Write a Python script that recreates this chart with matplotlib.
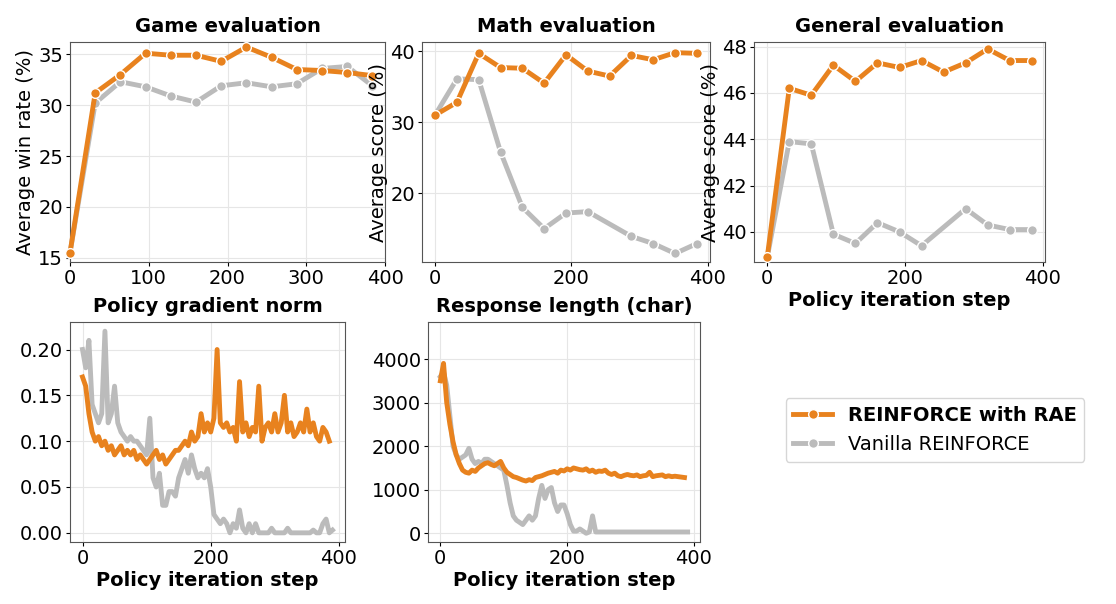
import matplotlib
matplotlib.use('Agg')
import matplotlib.pyplot as plt

ORANGE = '#e8821e'
GRAY = '#bbbbbb'

# evaluation steps
eval_steps = [0, 32, 64, 96, 128, 160, 192, 224, 256, 288, 320, 352, 384]
eval_steps_gap = [0, 32, 64, 96, 128, 160, 192, 224, 288, 320, 352, 384]

game_rae = [15.5, 31.2, 33.0, 35.1, 34.9, 34.9, 34.3, 35.7, 34.7, 33.5, 33.4, 33.2, 32.9]
game_vanilla = [15.5, 30.2, 32.3, 31.8, 30.9, 30.3, 31.9, 32.2, 31.8, 32.1, 33.6, 33.8, 31.9]
math_rae = [31.0, 32.8, 39.7, 37.7, 37.6, 35.5, 39.5, 37.2, 36.5, 39.4, 38.8, 39.8, 39.7]
math_vanilla = [31.0, 36.1, 36.0, 25.8, 18.0, 15.0, 17.2, 17.4, 13.9, 12.9, 11.5, 12.9]
gen_rae = [38.9, 46.2, 45.9, 47.2, 46.5, 47.3, 47.1, 47.4, 46.9, 47.3, 47.9, 47.4, 47.4]
gen_vanilla = [38.9, 43.9, 43.8, 39.9, 39.5, 40.4, 40.0, 39.4, 41.0, 40.3, 40.1, 40.1]

# training curves, every 5 steps
train_steps_rae = list(range(0, 390, 5))
train_steps_van = list(range(0, 395, 5))

grad_rae = [0.17, 0.16, 0.13, 0.11, 0.10, 0.105, 0.095, 0.10, 0.09, 0.095, 0.085, 0.09, 0.095,
            0.085, 0.09, 0.085, 0.09, 0.08, 0.085, 0.08, 0.075, 0.08, 0.085, 0.09, 0.08, 0.085,
            0.075, 0.08, 0.085, 0.09, 0.09, 0.095, 0.10, 0.095, 0.11, 0.10, 0.105, 0.13, 0.11,
            0.12, 0.11, 0.125, 0.20, 0.12, 0.115, 0.12, 0.11, 0.115, 0.10, 0.165, 0.11, 0.12,
            0.105, 0.115, 0.11, 0.16, 0.10, 0.115, 0.12, 0.11, 0.13, 0.11, 0.12, 0.15, 0.11,
            0.12, 0.105, 0.11, 0.12, 0.11, 0.135, 0.11, 0.12, 0.105, 0.10, 0.115, 0.11, 0.10]
grad_van = [0.20, 0.18, 0.21, 0.14, 0.13, 0.12, 0.13, 0.22, 0.12, 0.13, 0.16, 0.12, 0.11,
            0.105, 0.10, 0.105, 0.10, 0.10, 0.095, 0.09, 0.085, 0.125, 0.06, 0.05, 0.065, 0.03,
            0.03, 0.045, 0.045, 0.04, 0.06, 0.07, 0.08, 0.065, 0.085, 0.07, 0.06, 0.065, 0.06,
            0.07, 0.05, 0.02, 0.015, 0.01, 0.015, 0.01, 0.0, 0.01, 0.005, 0.025, 0.005, 0.0,
            0.01, 0.0, 0.01, 0.0, 0.0, 0.0, 0.0, 0.005, 0.0, 0.0, 0.0, 0.0, 0.005, 0.0, 0.0,
            0.0, 0.0, 0.0, 0.0, 0.0, 0.003, 0.0, 0.0, 0.01, 0.015, 0.0, 0.003]
len_rae = [3500, 3900, 3000, 2500, 2100, 1800, 1600, 1450, 1400, 1380, 1450, 1420, 1500,
           1550, 1600, 1620, 1580, 1550, 1600, 1650, 1500, 1400, 1350, 1300, 1280, 1250,
           1220, 1200, 1230, 1210, 1280, 1300, 1320, 1350, 1380, 1400, 1420, 1380, 1450,
           1430, 1480, 1450, 1500, 1480, 1460, 1450, 1480, 1420, 1450, 1400, 1430, 1420,
           1450, 1380, 1350, 1380, 1320, 1300, 1330, 1350, 1330, 1320, 1340, 1300, 1320,
           1330, 1400, 1300, 1320, 1330, 1340, 1300, 1320, 1300, 1310, 1300, 1290, 1280]
len_van = [3600, 3700, 3400, 2700, 2000, 1800, 1700, 1750, 1800, 1950, 1700, 1600, 1650,
           1600, 1700, 1700, 1650, 1600, 1550, 1500, 1450, 1100, 700, 400, 300, 250, 200,
           300, 400, 300, 400, 800, 1100, 800, 1000, 1050, 700, 500, 650, 650, 450, 200, 50,
           50, 100, 50, 0, 30, 400, 30, 30, 30, 30, 30, 30, 30, 30, 30, 30, 30, 30, 30, 30,
           30, 30, 30, 30, 30, 30, 30, 30, 30, 30, 30, 30, 30, 30, 30, 30]

plt.rcParams['font.family'] = 'DejaVu Sans'
plt.rcParams['font.size'] = 14

fig = plt.figure(figsize=(11.16, 6.04), dpi=100)
W, H = 1116, 604
FS = 14


def make_ax(x0, y0, x1, y1):
    ax = fig.add_axes([x0 / W, 1 - y1 / H, (x1 - x0) / W, (y1 - y0) / H])
    ax.grid(True, color='#e6e6e6', lw=0.8)
    ax.set_axisbelow(True)
    for s in ax.spines.values():
        s.set_color('#555555')
    ax.tick_params(labelsize=FS, length=3, pad=2)
    return ax


def eval_plot(ax, y1, x2, y2, title, ylabel):
    ax.plot(x2, y2, color=GRAY, lw=3.5, marker='o', ms=7, mec='white', mew=1, clip_on=False)
    ax.plot(eval_steps, y1, color=ORANGE, lw=3.5, marker='o', ms=7, mec='white', mew=1,
            clip_on=False, zorder=3)
    ax.set_title(title, fontsize=FS, fontweight='bold', pad=7)
    ax.set_ylabel(ylabel, fontsize=FS, labelpad=2)


ax1 = make_ax(70, 42, 385, 262)
eval_plot(ax1, game_rae, eval_steps, game_vanilla, 'Game evaluation', 'Average win rate (%)')
ax1.set_xlim(0, 400)
ax1.set_ylim(14.6, 36.2)

ax2 = make_ax(422, 42, 710, 262)
eval_plot(ax2, math_rae, eval_steps_gap, math_vanilla, 'Math evaluation', 'Average score (%)')
ax2.set_ylim(10.3, 41.3)
ax2.set_yticks([20, 30, 40])

ax3 = make_ax(754, 42, 1045, 262)
eval_plot(ax3, gen_rae, eval_steps_gap, gen_vanilla, 'General evaluation', 'Average score (%)')
ax3.set_ylim(38.7, 48.2)
ax3.set_xlabel('Policy iteration step', fontsize=FS, fontweight='bold', labelpad=2)

ax4 = make_ax(70, 322, 345, 542)
ax4.plot(train_steps_van, grad_van, color=GRAY, lw=3.5)
ax4.plot(train_steps_rae, grad_rae, color=ORANGE, lw=3.5)
ax4.set_title('Policy gradient norm', fontsize=FS, fontweight='bold', pad=7)
ax4.set_xlabel('Policy iteration step', fontsize=FS, fontweight='bold', labelpad=2)
ax4.set_ylim(-0.01, 0.23)
ax4.set_yticks([0, 0.05, 0.10, 0.15, 0.20])

ax5 = make_ax(428, 322, 700, 542)
ax5.plot(train_steps_van, len_van, color=GRAY, lw=3.5)
ax5.plot(train_steps_rae, len_rae, color=ORANGE, lw=3.5)
ax5.set_title('Response length (char)', fontsize=FS, fontweight='bold', pad=7)
ax5.set_xlabel('Policy iteration step', fontsize=FS, fontweight='bold', labelpad=2)
ax5.set_ylim(-200, 4850)
ax5.set_yticks([0, 1000, 2000, 3000, 4000])

h1, = ax5.plot([], [], color=ORANGE, lw=3.5, marker='o', ms=7, mec='white')
h2, = ax5.plot([], [], color=GRAY, lw=3.5, marker='o', ms=7, mec='white')
leg = fig.legend([h1, h2], ['REINFORCE with RAE', 'Vanilla REINFORCE'],
                 loc='center', bbox_to_anchor=(935 / W, 1 - 430 / H),
                 fontsize=FS, frameon=True, fancybox=True)
leg.get_texts()[0].set_fontweight('bold')

fig.savefig('out.png', dpi=100)
